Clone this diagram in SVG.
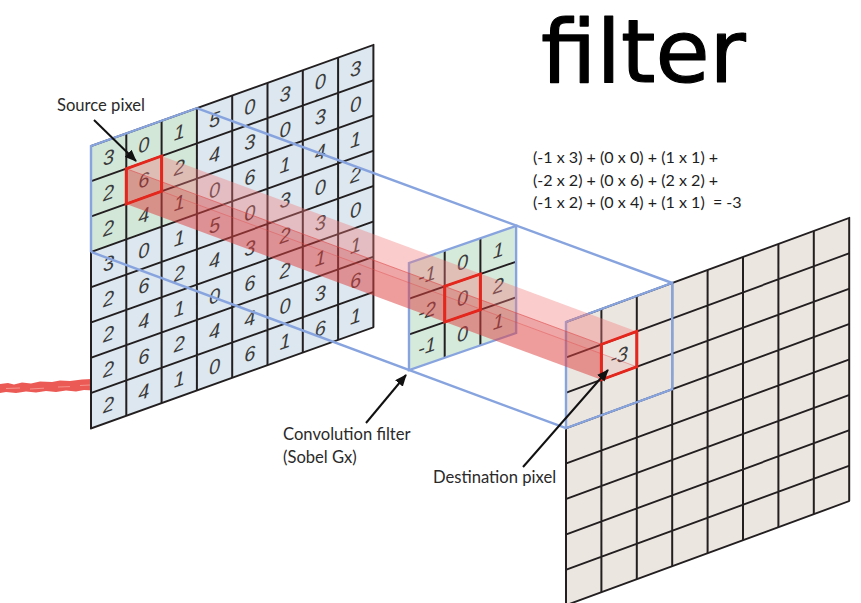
<svg xmlns="http://www.w3.org/2000/svg" width="861" height="603" viewBox="0 0 861 603">
  <defs>
    <style>
      .grid { fill: none; stroke: #231f20; stroke-width: 2; stroke-linejoin: round; }
      .num { font-family: "Liberation Sans", Arial, sans-serif; font-size: 20px; font-style: italic; fill: #3b3b3b; text-anchor: middle; }
      .blue { fill: none; stroke: #88a4df; stroke-width: 2.4; }
      .sel { fill: none; stroke: #e4261c; stroke-width: 3; stroke-linejoin: miter; }
      .lbl { font-family: Lato, "Noto Sans", sans-serif; font-size: 16.6px; fill: #2a2a2a; }
      .eq { font-family: Lato, "Noto Sans", sans-serif; font-size: 16.1px; fill: #1e1e1e; }
      .arrow { fill: none; stroke: #111; stroke-width: 2; }
    </style>
    <marker id="head" viewBox="0 0 12 10" refX="11" refY="5" markerWidth="12" markerHeight="10" markerUnits="userSpaceOnUse" orient="auto">
      <path d="M0,0 L12,5 L0,10 Z" fill="#111"/>
    </marker>
  </defs>

  <rect width="861" height="603" fill="#ffffff"/>

  <!-- title -->
  <text x="541" y="82" font-family="'DejaVu Sans', sans-serif" font-size="88" fill="#000" stroke="#000" stroke-width="1.2" stroke-linejoin="round">filter</text>

  <!-- red brush stroke at the left margin -->
  <path d="M0,384 L8,383 L14,384.5 L22,382.5 L31,383.5 L40,381.5 L52,382 L60,380.5 L70,381 L82,379.5 L92,379 L97,380.5 L95,384 L98,388 L94,390.5 L84,390 L76,391.5 L66,390.5 L56,392 L46,391 L36,392.5 L26,391.5 L16,393 L6,392 L0,393 Z" fill="#ec5a55"/>
  <path d="M6,388.5 L20,388 M30,389 L44,388.2 M58,387 L70,386.6 M80,385.5 L90,385" fill="none" stroke="#f6a19b" stroke-width="0.8"/>

  <!-- source image: 8x8 pixels -->
  <g id="source" transform="matrix(1,-0.358,0,1,91,146)">
    <rect x="0" y="0" width="282.4" height="282.4" fill="#dce7ef"/>
    <rect x="0" y="0" width="105.9" height="105.9" fill="#d2e7d8"/>
    <path class="grid" d="M35.3,0V282.4M70.6,0V282.4M105.9,0V282.4M141.2,0V282.4M176.5,0V282.4M211.8,0V282.4M247.1,0V282.4
      M0,35.3H282.4M0,70.6H282.4M0,105.9H282.4M0,141.2H282.4M0,176.5H282.4M0,211.8H282.4M0,247.1H282.4"/>
    <rect class="grid" x="0" y="0" width="282.4" height="282.4"/>
    <path class="blue" d="M0,105.9V0H105.9"/>
    <g class="num">
      <text x="17.6" y="24.6">3</text><text x="52.9" y="24.6">0</text><text x="88.2" y="24.6">1</text><text x="123.5" y="24.6">5</text><text x="158.8" y="24.6">0</text><text x="194.1" y="24.6">3</text><text x="229.4" y="24.6">0</text><text x="264.7" y="24.6">3</text>
      <text x="17.6" y="59.9">2</text><text x="52.9" y="59.9">6</text><text x="88.2" y="59.9">2</text><text x="123.5" y="59.9">4</text><text x="158.8" y="59.9">3</text><text x="194.1" y="59.9">0</text><text x="229.4" y="59.9">3</text><text x="264.7" y="59.9">0</text>
      <text x="17.6" y="95.2">2</text><text x="52.9" y="95.2">4</text><text x="88.2" y="95.2">1</text><text x="123.5" y="95.2">0</text><text x="158.8" y="95.2">6</text><text x="194.1" y="95.2">1</text><text x="229.4" y="95.2">4</text><text x="264.7" y="95.2">1</text>
      <text x="17.6" y="130.5">3</text><text x="52.9" y="130.5">0</text><text x="88.2" y="130.5">1</text><text x="123.5" y="130.5">5</text><text x="158.8" y="130.5">0</text><text x="194.1" y="130.5">3</text><text x="229.4" y="130.5">0</text><text x="264.7" y="130.5">2</text>
      <text x="17.6" y="165.8">2</text><text x="52.9" y="165.8">6</text><text x="88.2" y="165.8">2</text><text x="123.5" y="165.8">4</text><text x="158.8" y="165.8">3</text><text x="194.1" y="165.8">2</text><text x="229.4" y="165.8">3</text><text x="264.7" y="165.8">0</text>
      <text x="17.6" y="201.1">2</text><text x="52.9" y="201.1">4</text><text x="88.2" y="201.1">1</text><text x="123.5" y="201.1">0</text><text x="158.8" y="201.1">6</text><text x="194.1" y="201.1">2</text><text x="229.4" y="201.1">1</text><text x="264.7" y="201.1">1</text>
      <text x="17.6" y="236.4">2</text><text x="52.9" y="236.4">6</text><text x="88.2" y="236.4">2</text><text x="123.5" y="236.4">4</text><text x="158.8" y="236.4">4</text><text x="194.1" y="236.4">0</text><text x="229.4" y="236.4">3</text><text x="264.7" y="236.4">6</text>
      <text x="17.6" y="271.7">2</text><text x="52.9" y="271.7">4</text><text x="88.2" y="271.7">1</text><text x="123.5" y="271.7">0</text><text x="158.8" y="271.7">6</text><text x="194.1" y="271.7">1</text><text x="229.4" y="271.7">6</text><text x="264.7" y="271.7">1</text>
    </g>
  </g>

  <!-- convolution kernel (Sobel Gx) -->
  <g id="kernel" transform="matrix(1,-0.346,0,1,409,263)">
    <rect x="0" y="0" width="107.1" height="107.1" fill="#d6eadc"/>
    <path class="grid" d="M35.7,0V107.1M71.4,0V107.1M0,35.7H107.1M0,71.4H107.1"/>
    <rect class="blue" x="0" y="0" width="107.1" height="107.1"/>
    <g class="num">
      <text x="17.9" y="24.9">-1</text><text x="53.6" y="24.9">0</text><text x="89.3" y="24.9">1</text>
      <text x="17.9" y="60.6">-2</text><text x="53.6" y="60.6">0</text><text x="89.3" y="60.6">2</text>
      <text x="17.9" y="96.3">-1</text><text x="53.6" y="96.3">0</text><text x="89.3" y="96.3">1</text>
    </g>
  </g>

  <!-- destination image: 8x8 pixels -->
  <g id="destination" transform="matrix(1,-0.3675,0,1,566,322)">
    <rect x="0" y="0" width="283.2" height="283.2" fill="#ece6e1"/>
    <path class="grid" d="M35.4,0V283.2M70.8,0V283.2M106.2,0V283.2M141.6,0V283.2M177,0V283.2M212.4,0V283.2M247.8,0V283.2
      M0,35.4H283.2M0,70.8H283.2M0,106.2H283.2M0,141.6H283.2M0,177H283.2M0,212.4H283.2M0,247.8H283.2"/>
    <rect class="grid" x="0" y="0" width="283.2" height="283.2"/>
    <rect class="blue" x="0" y="0" width="106.2" height="106.2"/>
    <text class="num" x="53.1" y="60.1">-3</text>
  </g>

  <!-- projection frustum edges -->
  <g id="projection">
    <line class="blue" x1="196.9" y1="108.1" x2="672.2" y2="283"/>
    <line class="blue" x1="91" y1="251.9" x2="566" y2="428.2"/>
  </g>

  <!-- beam from the source pixel through the kernel centre to the destination pixel -->
  <g id="beam">
    <polygon points="161.6,156 636.8,331.4 601.4,344.4 126.3,168.7" fill="#f27a7a" fill-opacity="0.38"/>
    <polygon points="126.3,168.7 601.4,344.4 601.4,379.8 126.3,204" fill="#dc3a3a" fill-opacity="0.45"/>
    <polygon points="126.3,204 161.6,191.3 636.8,366.8 601.4,379.8" fill="#e85a5a" fill-opacity="0.12"/>
    <line x1="126.3" y1="168.7" x2="601.4" y2="344.4" stroke="#e04848" stroke-opacity="0.6" stroke-width="1"/>
    <line x1="161.6" y1="191.3" x2="636.8" y2="366.8" stroke="#e04848" stroke-opacity="0.4" stroke-width="1"/>
  </g>

  <!-- highlighted pixels -->
  <g id="source-pixel" transform="matrix(1,-0.358,0,1,91,146)">
    <rect class="sel" x="35.3" y="35.3" width="35.3" height="35.3"/>
  </g>
  <g id="kernel-centre" transform="matrix(1,-0.346,0,1,409,263)">
    <rect class="sel" x="35.7" y="35.7" width="35.7" height="35.7"/>
  </g>
  <g id="destination-pixel" transform="matrix(1,-0.3675,0,1,566,322)">
    <rect class="sel" x="35.4" y="35.4" width="35.4" height="35.4"/>
  </g>

  <!-- formula -->
  <g id="formula" class="eq">
    <text x="533" y="163">(-1 x 3) + (0 x 0) + (1 x 1) +</text>
    <text x="533" y="186">(-2 x 2) + (0 x 6) + (2 x 2) +</text>
    <text x="533" y="208">(-1 x 2) + (0 x 4) + (1 x 1) &#160;= -3</text>
  </g>

  <!-- labels -->
  <g id="label-source"><text class="lbl" x="57" y="111">Source pixel</text></g>
  <g id="label-kernel">
    <text class="lbl" x="283" y="440">Convolution filter</text>
    <text class="lbl" x="283" y="463">(Sobel Gx)</text>
  </g>
  <g id="label-destination"><text class="lbl" x="433" y="483">Destination pixel</text></g>

  <!-- pointer arrows -->
  <g id="connectors">
    <line class="arrow" x1="94" y1="120" x2="136" y2="161" marker-end="url(#head)"/>
    <line class="arrow" x1="366" y1="423" x2="406" y2="375" marker-end="url(#head)"/>
    <line class="arrow" x1="523" y1="467" x2="608" y2="370" marker-end="url(#head)"/>
  </g>
</svg>
